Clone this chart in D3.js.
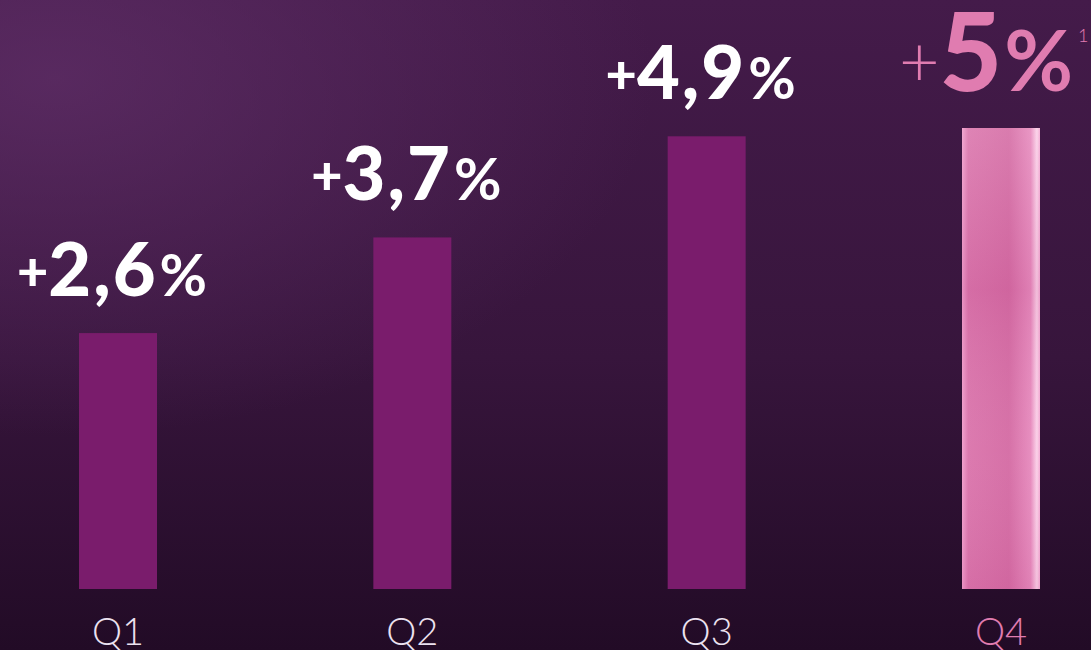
<!DOCTYPE html>
<html>
<head>
<meta charset="utf-8">
<script src="https://cdn.jsdelivr.net/npm/d3@7"></script>
<style>
  html, body { margin: 0; padding: 0; background: #2a1030; }
  svg { display: block; }
</style>
</head>
<body>
<div class="chart"></div>
<script>
const quarters = ['Q1', 'Q2', 'Q3', 'Q4'];
const growth = [2.6, 3.7, 4.9, 5];
const labels = ['2,6', '3,7', '4,9', '5'];

const width = 1091, height = 650;

const svg = d3.select('.chart')
    .append('svg')
    .attr('width', width)
    .attr('height', height);

const defs = svg.append('defs');

// background: dark purple, lighter at the top left
const bg = defs.append('linearGradient')
    .attr('id', 'bg').attr('x1', 0).attr('y1', 0).attr('x2', 0).attr('y2', 1);
bg.append('stop').attr('offset', '0%').attr('stop-color', '#441b4a');
bg.append('stop').attr('offset', '55%').attr('stop-color', '#37153c');
bg.append('stop').attr('offset', '100%').attr('stop-color', '#220b26');

const glow = defs.append('radialGradient')
    .attr('id', 'glow').attr('cx', 0.05).attr('cy', 0.12).attr('r', 0.55);
glow.append('stop').attr('offset', '0%').attr('stop-color', '#62306a').attr('stop-opacity', 0.7);
glow.append('stop').attr('offset', '100%').attr('stop-color', '#62306a').attr('stop-opacity', 0);

const pink = defs.append('linearGradient')
    .attr('id', 'pinkbar').attr('x1', 0).attr('y1', 0).attr('x2', 1).attr('y2', 0);
pink.append('stop').attr('offset', '0%').attr('stop-color', '#f09ccb');
pink.append('stop').attr('offset', '8%').attr('stop-color', '#da73ab');
pink.append('stop').attr('offset', '60%').attr('stop-color', '#d46aa3');
pink.append('stop').attr('offset', '88%').attr('stop-color', '#e688bc');
pink.append('stop').attr('offset', '96%').attr('stop-color', '#fbd0e8');
pink.append('stop').attr('offset', '100%').attr('stop-color', '#f3a8d2');

const pinkV = defs.append('linearGradient')
    .attr('id', 'pinkshade').attr('x1', 0).attr('y1', 0).attr('x2', 0).attr('y2', 1);
pinkV.append('stop').attr('offset', '0%').attr('stop-color', '#ffffff').attr('stop-opacity', 0.12);
pinkV.append('stop').attr('offset', '35%').attr('stop-color', '#b0407c').attr('stop-opacity', 0.12);
pinkV.append('stop').attr('offset', '70%').attr('stop-color', '#ffffff').attr('stop-opacity', 0.05);
pinkV.append('stop').attr('offset', '100%').attr('stop-color', '#b0407c').attr('stop-opacity', 0.1);

svg.append('rect').attr('width', width).attr('height', height).attr('fill', 'url(#bg)');
svg.append('rect').attr('width', width).attr('height', height).attr('fill', 'url(#glow)');

const x = d3.scaleBand()
    .domain(quarters)
    .range([79, 1040])
    .paddingInner(0.735)
    .paddingOuter(0);

const y = d3.scalePow()
    .exponent(0.9)
    .domain([0, 5])
    .range([589, 128]);

const last = quarters.length - 1;

svg.selectAll('.bar')
    .data(quarters)
    .enter()
    .append('rect')
    .attr('class', 'bar')
    .attr('x', d => x(d))
    .attr('y', (d, i) => y(growth[i]))
    .attr('width', x.bandwidth())
    .attr('height', (d, i) => y(0) - y(growth[i]))
    .attr('fill', (d, i) => i === last ? 'url(#pinkbar)' : '#7a1c6c');

svg.append('rect')
    .attr('x', x(quarters[last]))
    .attr('y', y(growth[last]))
    .attr('width', x.bandwidth())
    .attr('height', y(0) - y(growth[last]))
    .attr('fill', 'url(#pinkshade)');

// value labels
const font = 'Lato, "Open Sans", sans-serif';

quarters.forEach((q, i) => {
    const cx = x(q) + x.bandwidth() / 2;
    const base = y(growth[i]) - 37;
    const isLast = i === last;
    const t = svg.append('text')
        .attr('x', isLast ? cx - 15 : cx - 6)
        .attr('y', base)
        .attr('text-anchor', 'middle')
        .attr('font-family', font)
        .attr('fill', isLast ? '#e07cb0' : '#ffffff');
    if (isLast) {
        t.append('tspan').attr('font-size', 70).attr('font-weight', 300).attr('dy', -4).text('+');
        t.append('tspan').attr('font-size', 108).attr('font-weight', 900).attr('dy', 4).text(labels[i]);
        t.append('tspan').attr('font-size', 84).attr('font-weight', 700).attr('dx', 2).text('%');
        svg.append('text')
            .attr('x', 1078)
            .attr('y', 42)
            .attr('font-family', font)
            .attr('font-weight', 300)
            .attr('font-size', 18)
            .attr('fill', '#e07cb0')
            .text('1');
    } else {
        t.append('tspan').attr('font-size', 54).attr('font-weight', 900).attr('dy', -6).text('+');
        t.append('tspan').attr('font-size', 74).attr('font-weight', 900).attr('dy', 6)
            .attr('letter-spacing', 2).text(labels[i]);
        t.append('tspan').attr('font-size', 58).attr('font-weight', 700).attr('dx', 2).text('%');
    }
});

// quarter labels
svg.selectAll('.qlabel')
    .data(quarters)
    .enter()
    .append('text')
    .attr('class', 'qlabel')
    .attr('x', d => x(d) + x.bandwidth() / 2)
    .attr('y', 645)
    .attr('text-anchor', 'middle')
    .attr('font-family', font)
    .attr('font-weight', 300)
    .attr('font-size', 38)
    .attr('fill', (d, i) => i === last ? '#e07cb0' : '#ece2f0')
    .text(d => d);
</script>
</body>
</html>
